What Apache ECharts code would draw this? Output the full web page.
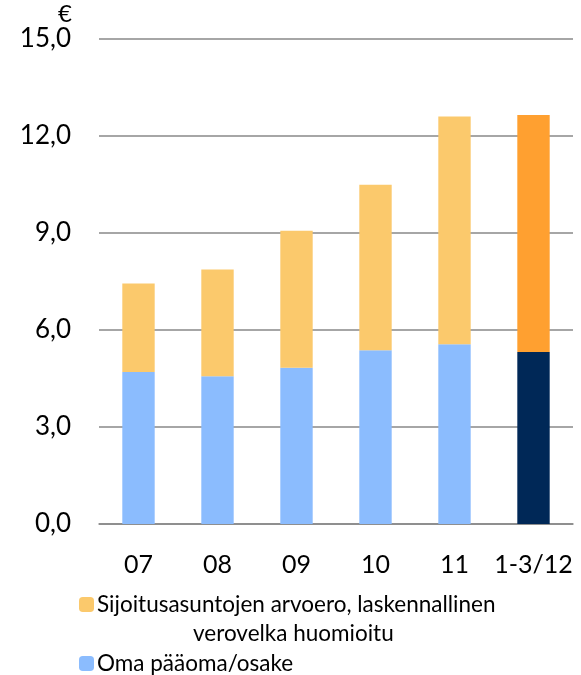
<!DOCTYPE html>
<html>
<head>
<meta charset="utf-8">
<script src="https://cdn.jsdelivr.net/npm/echarts@6/dist/echarts.min.js"></script>
<style>
  html, body { margin: 0; padding: 0; background: #fff; }
  #chart { width: 581px; height: 675px; }
</style>
</head>
<body>
<div id="chart"></div>
<script>
// vuodet / jaksot
const categories = ['07', '08', '09', '10', '11', '1-3/12']
// Oma pääoma/osake (€)
const equityPerShare = [4.70, 4.57, 4.83, 5.37, 5.56, 5.32]
// Sijoitusasuntojen arvoero, laskennallinen verovelka huomioitu (€)
const valueDifference = [2.74, 3.30, 4.24, 5.12, 7.04, 7.33]
const yTicks = [0, 3, 6, 9, 12, 15]

const nameDiff = 'Sijoitusasuntojen arvoero, laskennallinen verovelka huomioitu'
const nameEquity = 'Oma pääoma/osake'
const font = 'Lato'
const last = categories.length - 1

const legendBase = {
  left: 74,
  itemWidth: 15,
  itemHeight: 15,
  textStyle: { fontFamily: font, fontSize: 22.5, color: '#000', padding: [0, 0, 0, -2] }
}

const chart = echarts.init(document.getElementById('chart'))
chart.setOption({
  animation: false,
  grid: { left: 99, right: 8, top: 39, bottom: 151 },
  legend: [
    Object.assign({}, legendBase, {
      top: 588,
      data: [nameDiff],
      formatter: () => 'Sijoitusasuntojen arvoero, laskennallinen'
    }),
    Object.assign({}, legendBase, {
      top: 647,
      data: [nameEquity]
    })
  ],
  graphic: [{
    type: 'text',
    left: 193,
    top: 622,
    style: { text: 'verovelka huomioitu', font: '22.5px ' + font, fill: '#000' }
  }],
  xAxis: {
    type: 'category',
    data: categories,
    axisTick: { show: false },
    axisLine: { lineStyle: { color: '#888', width: 1.5 } },
    axisLabel: { interval: 0, fontFamily: font, fontSize: 25, color: '#000', margin: 28 }
  },
  yAxis: {
    type: 'value',
    min: 0,
    max: 15,
    interval: 3,
    name: '€',
    nameGap: 18,
    nameTextStyle: {
      fontFamily: font, fontSize: 24, color: '#000',
      align: 'right', verticalAlign: 'middle', padding: [0, 27, 0, 0]
    },
    axisLabel: {
      fontFamily: font, fontSize: 26, color: '#000', margin: 28,
      formatter: v => yTicks.includes(v) ? v.toFixed(1).replace('.', ',') : ''
    },
    splitLine: { lineStyle: { color: '#888', width: 1.5 } }
  },
  series: [
    {
      name: nameEquity,
      type: 'bar',
      stack: 'total',
      barWidth: '41%',
      itemStyle: { color: '#8BBCFE' },
      data: equityPerShare.map((v, i) => i === last ? { value: v, itemStyle: { color: '#002857' } } : v)
    },
    {
      name: nameDiff,
      type: 'bar',
      stack: 'total',
      barWidth: '41%',
      itemStyle: { color: '#FBC96C' },
      data: valueDifference.map((v, i) => i === last ? { value: v, itemStyle: { color: '#FFA030' } } : v)
    }
  ]
})
</script>
</body>
</html>
